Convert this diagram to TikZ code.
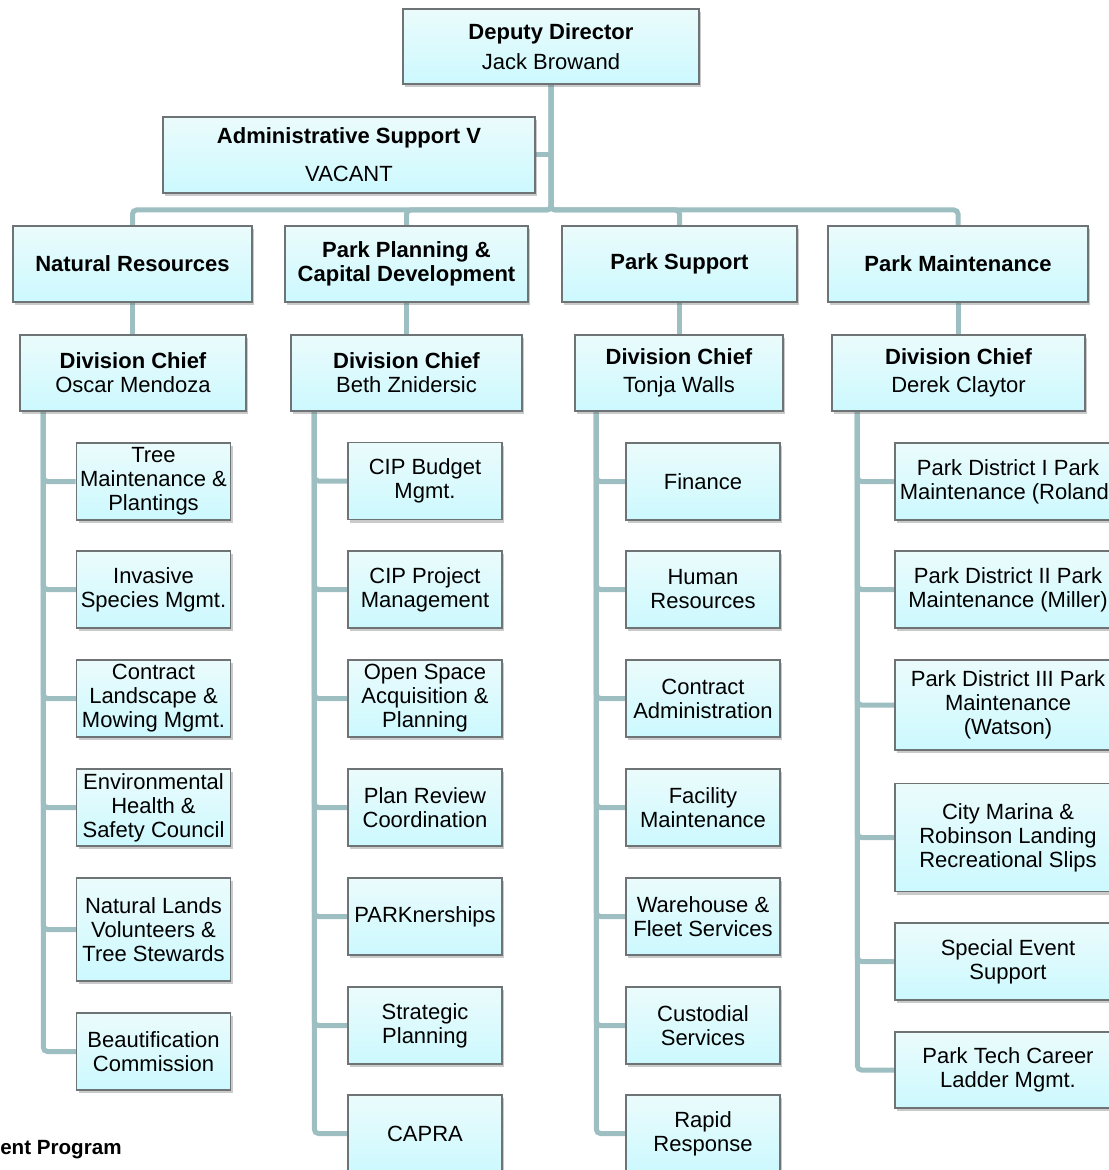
\documentclass[tikz,border=0pt]{standalone}
\usepackage{fontspec}
\setmainfont{Liberation Sans}
\usepackage{tikz}
\usetikzlibrary{positioning,calc,shadows,backgrounds}

\definecolor{boxtop}{HTML}{EBFBFC}
\definecolor{boxbot}{HTML}{CCF9FE}
\definecolor{linkcol}{HTML}{9DBFC2}
\definecolor{edgecol}{HTML}{6E7475}

\begin{document}
\begin{tikzpicture}[x=0.5pt, y=-0.5pt,
    unit/.style={rectangle, draw=edgecol, line width=0.6pt, top color=boxtop, bottom color=boxbot,
        align=center, inner sep=2pt, font=\fontsize{11}{12}\selectfont,
        drop shadow={shadow xshift=1.2pt, shadow yshift=-1.5pt, fill=black!60, opacity=0.35}},
    head/.style={unit, minimum height=38pt},
    task/.style={unit, minimum width=77pt, minimum height=38.5pt},
    wide/.style={unit, minimum width=113pt, minimum height=38.5pt},
    link/.style={draw=linkcol, line width=2.5pt, rounded corners=2pt}
]
    \useasboundingbox (0,0) rectangle (1108,1170);

    % Director and support
    \node[head, minimum width=148pt, minimum height=37.5pt] (deputy) at (551,46.5) {\textbf{Deputy Director}\\[3pt]Jack Browand};
    \node[head, minimum width=186pt] (admin) at (349,155) {\textbf{Administrative Support V}\\[7pt]VACANT};
    \coordinate (bus) at (551,210);

    % Divisions
    \node[head, minimum width=119.5pt] (natres) at (132.5,264) {\textbf{Natural Resources}};
    \node[head, minimum width=121.5pt] (planning) at (406.5,264) {\textbf{Park Planning \&}\\\textbf{Capital Development}};
    \node[head, minimum width=117.5pt] (support) at (679.5,264) {\textbf{Park Support}};
    \node[head, minimum width=130pt] (maint) at (958,264) {\textbf{Park Maintenance}};

    % Division chiefs
    \node[head, minimum width=113pt] (nrchief) at (133,373) {\textbf{Division Chief}\\Oscar Mendoza};
    \node[head, minimum width=115.5pt] (ppchief) at (406.5,373) {\textbf{Division Chief}\\Beth Znidersic};
    \node[head, minimum width=104pt] (pschief) at (679,373) {\textbf{Division Chief}\\[2pt]Tonja Walls};
    \node[head, minimum width=126.5pt] (pmchief) at (958.5,373) {\textbf{Division Chief}\\[2pt]Derek Claytor};

    % Natural Resources units
    \node[task] (tree) at (153.5,481.5) {Tree\\Maintenance \&\\Plantings};
    \node[task] (invasive) at (153.5,589.5) {Invasive\\Species Mgmt.};
    \node[task] (landscape) at (153.5,698.5) {Contract\\Landscape \&\\Mowing Mgmt.};
    \node[task] (safety) at (153.5,807.5) {Environmental\\Health \&\\Safety Council};
    \node[task, minimum height=51.5pt] (lands) at (153.5,929.5) {Natural Lands\\Volunteers \&\\Tree Stewards};
    \node[task] (beauty) at (153.5,1051.5) {Beautification\\Commission};

    % Park Planning units
    \node[task] (cipbudget) at (425,481) {CIP Budget\\Mgmt.};
    \node[task] (cipproject) at (425,589.5) {CIP Project\\Management};
    \node[task] (openspace) at (425,698.5) {Open Space\\Acquisition \&\\Planning};
    \node[task] (review) at (425,807.5) {Plan Review\\Coordination};
    \node[task] (parkner) at (425,916.5) {PARKnerships};
    \node[task] (strategic) at (425,1025.5) {Strategic\\Planning};
    \node[task] (capra) at (425,1133.5) {CAPRA};

    % Park Support units
    \node[task] (finance) at (703,481.5) {Finance};
    \node[task] (hr) at (703,589.5) {Human\\Resources};
    \node[task] (contractadm) at (703,698.5) {Contract\\Administration};
    \node[task] (facility) at (703,807.5) {Facility\\Maintenance};
    \node[task] (warehouse) at (703,916.5) {Warehouse \&\\Fleet Services};
    \node[task] (custodial) at (703,1025.5) {Custodial\\Services};
    \node[task] (rapid) at (703,1133.5) {Rapid\\Response};

    % Park Maintenance units
    \node[wide] (district1) at (1008,481.5) {Park District I Park\\Maintenance (Roland)};
    \node[wide] (district2) at (1008,589.5) {Park District II Park\\Maintenance (Miller)};
    \node[wide, minimum height=45pt] (district3) at (1008,705) {Park District III Park\\Maintenance\\(Watson)};
    \node[wide, minimum height=54pt] (marina) at (1008,837.5) {City Marina \&\\Robinson Landing\\Recreational Slips};
    \node[wide] (special) at (1008,961.5) {Special Event\\Support};
    \node[wide, minimum height=38pt] (careertech) at (1008,1070) {Park Tech Career\\Ladder Mgmt.};

    \node[font=\fontsize{10.3}{12}\selectfont\bfseries, anchor=east, inner sep=0pt] (program) at (122,1150) {ent Program};

    % Connectors
    \begin{scope}[on background layer]
        \draw[link] (admin.east) -- (admin.east -| deputy.south);
        \draw[link] (deputy.south) -- (deputy.south |- bus) -| (natres.north);
        \draw[link] (deputy.south) -- (deputy.south |- bus) -| (planning.north);
        \draw[link] (deputy.south) -- (deputy.south |- bus) -| (support.north);
        \draw[link] (deputy.south) -- (deputy.south |- bus) -| (maint.north);
        \draw[link] (natres.south) -- (natres.south |- nrchief.north);
        \draw[link] (planning.south) -- (planning.south |- ppchief.north);
        \draw[link] (support.south) -- (support.south |- pschief.north);
        \draw[link] (maint.south) -- (maint.south |- pmchief.north);
        \foreach \n in {tree,invasive,landscape,safety,lands,beauty}
            \draw[link] ([xshift=12pt]nrchief.south west) |- (\n.west);
        \foreach \n in {cipbudget,cipproject,openspace,review,parkner,strategic,capra}
            \draw[link] ([xshift=12pt]ppchief.south west) |- (\n.west);
        \foreach \n in {finance,hr,contractadm,facility,warehouse,custodial,rapid}
            \draw[link] ([xshift=11pt]pschief.south west) |- (\n.west);
        \foreach \n in {district1,district2,district3,marina,special,careertech}
            \draw[link] ([xshift=13pt]pmchief.south west) |- (\n.west);
    \end{scope}
\end{tikzpicture}
\end{document}
